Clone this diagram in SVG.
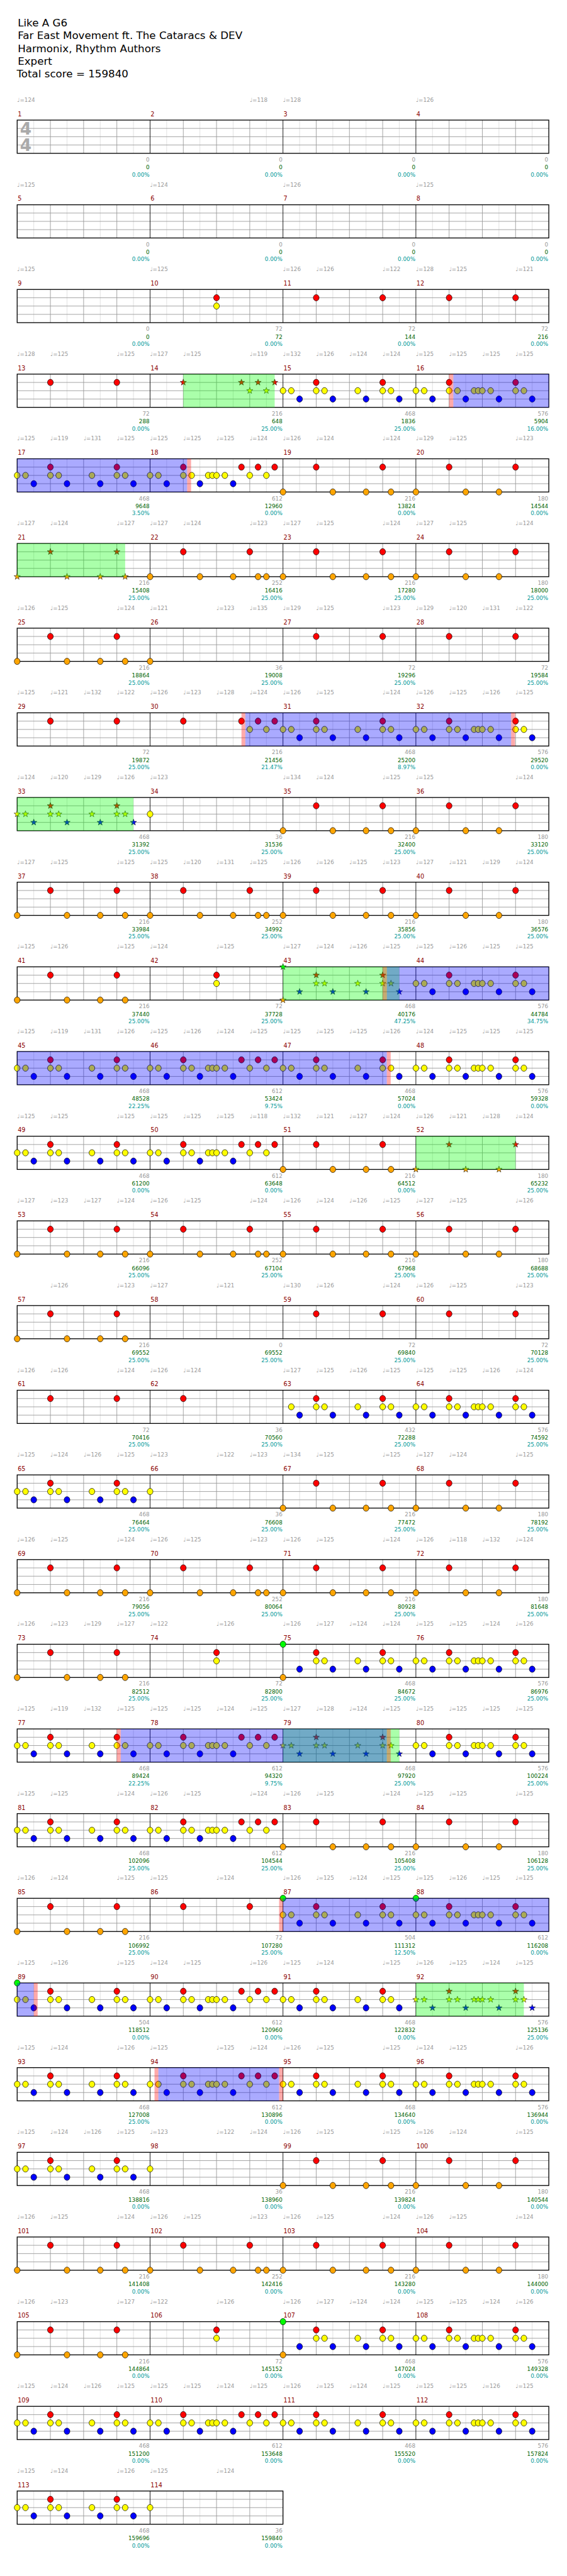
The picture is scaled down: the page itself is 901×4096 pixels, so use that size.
<svg xmlns="http://www.w3.org/2000/svg" width="901" height="4096" viewBox="0 0 901 4096">
<style>
text{font-family:"DejaVu Sans","Liberation Sans",sans-serif}
.t{font-size:19px;fill:#000}
.tp{font-size:10px;fill:#999}
.mn{font-size:11px;fill:#8b0000}
.ts{font-size:30px;font-weight:bold;fill:#aaa}
.s1{font-size:10px;fill:#999;text-anchor:end}
.s2{font-size:10px;fill:#006400;text-anchor:end}
.s3{font-size:10px;fill:#009999;text-anchor:end}
.o{fill:#ffa500}.r{fill:#f00}.y{fill:#ff0}.b{fill:#00f}.g{fill:#0f0}
.ob{fill:#00f;fill-opacity:.333}.og{fill:#0f0;fill-opacity:.333}.or{fill:#f00;fill-opacity:.333}
</style>
<defs>
<g id="grid">
<rect x="31" y="0" width="960" height="60" fill="#fff"/>
<path d="M61 0v60M121 0v60M181 0v60M241 0v60M301 0v60M361 0v60M421 0v60M481 0v60M541 0v60M601 0v60M661 0v60M721 0v60M781 0v60M841 0v60M901 0v60M961 0v60" stroke="#ddd"/>
<path d="M91 0v60M151 0v60M211 0v60M331 0v60M391 0v60M451 0v60M571 0v60M631 0v60M691 0v60M811 0v60M871 0v60M931 0v60M31 15h960M31 30h960M31 45h960" stroke="#999"/>
<path d="M271 0v60M511 0v60M751 0v60" stroke="#000"/>
<rect x="31" y="0" width="960" height="60" fill="none" stroke="#000" stroke-width="1.5"/>
</g>
<g id="grid2">
<rect x="31" y="0" width="480" height="60" fill="#fff"/>
<path d="M61 0v60M121 0v60M181 0v60M241 0v60M301 0v60M361 0v60M421 0v60M481 0v60" stroke="#ddd"/>
<path d="M91 0v60M151 0v60M211 0v60M331 0v60M391 0v60M451 0v60M31 15h480M31 30h480M31 45h480" stroke="#999"/>
<path d="M271 0v60" stroke="#000"/>
<rect x="31" y="0" width="480" height="60" fill="none" stroke="#000" stroke-width="1.5"/>
</g>
<ellipse id="n" rx="5.2" ry="5.7" stroke="#000" stroke-width=".8"/>
<path id="s" d="M0-6L1.41-1.94 5.71-1.85 2.28.74 3.53 4.85 0 2.4-3.53 4.85-2.28.74-5.71-1.85-1.41-1.94Z" stroke="#000" stroke-width=".6"/>
<g id="R"><use href="#n" class="r" x="60" y="15"/><use href="#n" class="r" x="180" y="15"/></g>
<g id="K3"><use href="#R"/><use href="#n" class="o" x="0" y="60"/><use href="#n" class="o" x="90" y="60"/><use href="#n" class="o" x="150" y="60"/></g>
<g id="K1"><use href="#K3"/><use href="#n" class="o" x="195" y="60"/></g>
<g id="K2"><use href="#K1"/><use href="#n" class="o" x="210" y="60"/></g>
<g id="RY8"><use href="#n" class="r" x="120" y="15"/><use href="#n" class="y" x="120" y="30"/></g>
<g id="C"><use href="#n" class="y" x="60" y="30"/><use href="#n" class="y" x="75" y="30"/><use href="#n" class="y" x="135" y="30"/><use href="#n" class="y" x="180" y="30"/><use href="#n" class="y" x="195" y="30"/><use href="#R"/><use href="#n" class="b" x="30" y="45"/><use href="#n" class="b" x="90" y="45"/><use href="#n" class="b" x="150" y="45"/><use href="#n" class="b" x="210" y="45"/></g>
<g id="H1b"><use href="#n" class="y" x="15" y="30"/><use href="#C"/></g>
<g id="H1"><use href="#n" class="y" x="0" y="30"/><use href="#H1b"/></g>
<g id="H2"><use href="#H1"/><use href="#n" class="y" x="105" y="30"/><use href="#n" class="y" x="112.5" y="30"/><use href="#n" class="y" x="120" y="30"/></g>
<g id="X"><use href="#n" class="r" x="60" y="15"/><use href="#n" class="r" x="165" y="15"/><use href="#n" class="r" x="195" y="15"/><use href="#n" class="r" x="225" y="15"/><use href="#n" class="y" x="180" y="30"/><use href="#n" class="y" x="210" y="30"/></g>
<g id="H3"><use href="#X"/><use href="#n" class="y" x="0" y="30"/><use href="#n" class="y" x="15" y="30"/><use href="#n" class="y" x="60" y="30"/><use href="#n" class="y" x="75" y="30"/><use href="#n" class="y" x="105" y="30"/><use href="#n" class="y" x="112.5" y="30"/><use href="#n" class="y" x="120" y="30"/><use href="#n" class="y" x="135" y="30"/><use href="#n" class="b" x="30" y="45"/><use href="#n" class="b" x="90" y="45"/><use href="#n" class="b" x="150" y="45"/></g>
<g id="Rs"><use href="#s" class="r" x="60" y="15"/><use href="#s" class="r" x="180" y="15"/></g>
<g id="K3s"><use href="#Rs"/><use href="#s" class="o" x="0" y="60"/><use href="#s" class="o" x="90" y="60"/><use href="#s" class="o" x="150" y="60"/></g>
<g id="K1s"><use href="#K3s"/><use href="#s" class="o" x="195" y="60"/></g>
<g id="Xs"><use href="#s" class="r" x="60" y="15"/><use href="#s" class="r" x="165" y="15"/><use href="#s" class="r" x="195" y="15"/><use href="#s" class="r" x="225" y="15"/><use href="#s" class="y" x="180" y="30"/><use href="#s" class="y" x="210" y="30"/></g>
<g id="Cs"><use href="#s" class="y" x="60" y="30"/><use href="#s" class="y" x="75" y="30"/><use href="#s" class="y" x="135" y="30"/><use href="#s" class="y" x="180" y="30"/><use href="#s" class="y" x="195" y="30"/><use href="#Rs"/><use href="#s" class="b" x="30" y="45"/><use href="#s" class="b" x="90" y="45"/><use href="#s" class="b" x="150" y="45"/><use href="#s" class="b" x="210" y="45"/></g>
<g id="H1s"><use href="#s" class="y" x="0" y="30"/><use href="#s" class="y" x="15" y="30"/><use href="#Cs"/></g>
<g id="H2s"><use href="#H1s"/><use href="#s" class="y" x="105" y="30"/><use href="#s" class="y" x="112.5" y="30"/><use href="#s" class="y" x="120" y="30"/></g>
</defs>
<rect width="901" height="4096" fill="#fff"/>
<g transform="scale(0.88)">
<g id="header">
<text class="t" x="32" y="48">Like A G6</text>
<text class="t" x="32" y="71">Far East Movement ft. The Cataracs &amp; DEV</text>
<text class="t" x="32" y="94">Harmonix, Rhythm Authors</text>
<text class="t" x="32" y="117">Expert</text>
<text class="t" x="30" y="140">Total score = 159840</text>
</g>

<g id="row1" transform="translate(0,217)">
<use href="#grid"/>
<text class="ts" x="36" y="26">4</text><text class="ts" x="36" y="56">4</text>
<text class="tp" x="31" y="-33">♩=124</text><text class="tp" x="451" y="-33">♩=118</text><text class="tp" x="511" y="-33">♩=128</text><text class="tp" x="751" y="-33">♩=126</text>
<text class="mn" x="32" y="-7">1</text><text class="mn" x="272" y="-7">2</text><text class="mn" x="512" y="-7">3</text><text class="mn" x="752" y="-7">4</text>
<text class="s1" x="270" y="75">0</text><text class="s2" x="270" y="89">0</text><text class="s3" x="270" y="102">0.00%</text>
<text class="s1" x="510" y="75">0</text><text class="s2" x="510" y="89">0</text><text class="s3" x="510" y="102">0.00%</text>
<text class="s1" x="750" y="75">0</text><text class="s2" x="750" y="89">0</text><text class="s3" x="750" y="102">0.00%</text>
<text class="s1" x="990" y="75">0</text><text class="s2" x="990" y="89">0</text><text class="s3" x="990" y="102">0.00%</text>
</g>

<g id="row2" transform="translate(0,370)">
<use href="#grid"/>
<text class="tp" x="31" y="-33">♩=125</text><text class="tp" x="271" y="-33">♩=124</text><text class="tp" x="511" y="-33">♩=126</text><text class="tp" x="751" y="-33">♩=125</text>
<text class="mn" x="32" y="-7">5</text><text class="mn" x="272" y="-7">6</text><text class="mn" x="512" y="-7">7</text><text class="mn" x="752" y="-7">8</text>
<text class="s1" x="270" y="75">0</text><text class="s2" x="270" y="89">0</text><text class="s3" x="270" y="102">0.00%</text>
<text class="s1" x="510" y="75">0</text><text class="s2" x="510" y="89">0</text><text class="s3" x="510" y="102">0.00%</text>
<text class="s1" x="750" y="75">0</text><text class="s2" x="750" y="89">0</text><text class="s3" x="750" y="102">0.00%</text>
<text class="s1" x="990" y="75">0</text><text class="s2" x="990" y="89">0</text><text class="s3" x="990" y="102">0.00%</text>
</g>

<g id="row3" transform="translate(0,523)">
<use href="#grid"/>
<text class="tp" x="31" y="-33">♩=125</text><text class="tp" x="271" y="-33">♩=125</text><text class="tp" x="511" y="-33">♩=126</text><text class="tp" x="571" y="-33">♩=126</text><text class="tp" x="691" y="-33">♩=122</text><text class="tp" x="751" y="-33">♩=128</text><text class="tp" x="811" y="-33">♩=125</text><text class="tp" x="931" y="-33">♩=121</text>
<text class="mn" x="32" y="-7">9</text><text class="mn" x="272" y="-7">10</text><text class="mn" x="512" y="-7">11</text><text class="mn" x="752" y="-7">12</text>
<use href="#RY8" x="271"/><use href="#R" x="511"/><use href="#R" x="751"/>
<text class="s1" x="270" y="75">0</text><text class="s2" x="270" y="89">0</text><text class="s3" x="270" y="102">0.00%</text>
<text class="s1" x="510" y="75">72</text><text class="s2" x="510" y="89">72</text><text class="s3" x="510" y="102">0.00%</text>
<text class="s1" x="750" y="75">72</text><text class="s2" x="750" y="89">144</text><text class="s3" x="750" y="102">0.00%</text>
<text class="s1" x="990" y="75">72</text><text class="s2" x="990" y="89">216</text><text class="s3" x="990" y="102">0.00%</text>
</g>

<g id="row4" transform="translate(0,676)">
<use href="#grid"/>
<text class="tp" x="31" y="-33">♩=128</text><text class="tp" x="91" y="-33">♩=125</text><text class="tp" x="211" y="-33">♩=125</text><text class="tp" x="271" y="-33">♩=127</text><text class="tp" x="331" y="-33">♩=125</text><text class="tp" x="451" y="-33">♩=119</text><text class="tp" x="511" y="-33">♩=132</text><text class="tp" x="571" y="-33">♩=126</text><text class="tp" x="631" y="-33">♩=124</text><text class="tp" x="691" y="-33">♩=124</text><text class="tp" x="751" y="-33">♩=125</text><text class="tp" x="811" y="-33">♩=125</text><text class="tp" x="871" y="-33">♩=125</text><text class="tp" x="931" y="-33">♩=125</text>
<text class="mn" x="32" y="-7">13</text><text class="mn" x="272" y="-7">14</text><text class="mn" x="512" y="-7">15</text><text class="mn" x="752" y="-7">16</text>
<use href="#R" x="31"/><use href="#Xs" x="271"/><use href="#H1" x="511"/><use href="#H2" x="751"/>
<rect class="og" x="331" y="0" width="165" height="60"/><rect class="ob" x="818.5" y="0" width="172.5" height="60"/><rect class="or" x="811" y="0" width="7.5" height="60"/>
<text class="s1" x="270" y="75">72</text><text class="s2" x="270" y="89">288</text><text class="s3" x="270" y="102">0.00%</text>
<text class="s1" x="510" y="75">216</text><text class="s2" x="510" y="89">648</text><text class="s3" x="510" y="102">25.00%</text>
<text class="s1" x="750" y="75">468</text><text class="s2" x="750" y="89">1836</text><text class="s3" x="750" y="102">25.00%</text>
<text class="s1" x="990" y="75">576</text><text class="s2" x="990" y="89">5904</text><text class="s3" x="990" y="102">16.00%</text>
</g>

<g id="row5" transform="translate(0,829)">
<use href="#grid"/>
<text class="tp" x="31" y="-33">♩=125</text><text class="tp" x="91" y="-33">♩=119</text><text class="tp" x="151" y="-33">♩=131</text><text class="tp" x="211" y="-33">♩=125</text><text class="tp" x="271" y="-33">♩=125</text><text class="tp" x="331" y="-33">♩=125</text><text class="tp" x="391" y="-33">♩=125</text><text class="tp" x="451" y="-33">♩=124</text><text class="tp" x="511" y="-33">♩=126</text><text class="tp" x="571" y="-33">♩=124</text><text class="tp" x="691" y="-33">♩=124</text><text class="tp" x="751" y="-33">♩=129</text><text class="tp" x="811" y="-33">♩=125</text><text class="tp" x="931" y="-33">♩=123</text>
<text class="mn" x="32" y="-7">17</text><text class="mn" x="272" y="-7">18</text><text class="mn" x="512" y="-7">19</text><text class="mn" x="752" y="-7">20</text>
<use href="#H1" x="31"/><use href="#H3" x="271"/><use href="#K1" x="511"/><use href="#K3" x="751"/>
<rect class="ob" x="31" y="0" width="307" height="60"/><rect class="or" x="338" y="0" width="7" height="60"/>
<text class="s1" x="270" y="75">468</text><text class="s2" x="270" y="89">9648</text><text class="s3" x="270" y="102">3.50%</text>
<text class="s1" x="510" y="75">612</text><text class="s2" x="510" y="89">12960</text><text class="s3" x="510" y="102">0.00%</text>
<text class="s1" x="750" y="75">216</text><text class="s2" x="750" y="89">13824</text><text class="s3" x="750" y="102">0.00%</text>
<text class="s1" x="990" y="75">180</text><text class="s2" x="990" y="89">14544</text><text class="s3" x="990" y="102">0.00%</text>
</g>

<g id="row6" transform="translate(0,982)">
<use href="#grid"/>
<text class="tp" x="31" y="-33">♩=127</text><text class="tp" x="91" y="-33">♩=124</text><text class="tp" x="211" y="-33">♩=127</text><text class="tp" x="271" y="-33">♩=127</text><text class="tp" x="331" y="-33">♩=124</text><text class="tp" x="451" y="-33">♩=123</text><text class="tp" x="511" y="-33">♩=127</text><text class="tp" x="571" y="-33">♩=125</text><text class="tp" x="691" y="-33">♩=124</text><text class="tp" x="751" y="-33">♩=127</text><text class="tp" x="811" y="-33">♩=125</text><text class="tp" x="931" y="-33">♩=124</text>
<text class="mn" x="32" y="-7">21</text><text class="mn" x="272" y="-7">22</text><text class="mn" x="512" y="-7">23</text><text class="mn" x="752" y="-7">24</text>
<use href="#K1s" x="31"/><use href="#K2" x="271"/><use href="#K1" x="511"/><use href="#K3" x="751"/>
<rect class="og" x="31" y="0" width="195" height="60"/>
<text class="s1" x="270" y="75">216</text><text class="s2" x="270" y="89">15408</text><text class="s3" x="270" y="102">25.00%</text>
<text class="s1" x="510" y="75">252</text><text class="s2" x="510" y="89">16416</text><text class="s3" x="510" y="102">25.00%</text>
<text class="s1" x="750" y="75">216</text><text class="s2" x="750" y="89">17280</text><text class="s3" x="750" y="102">25.00%</text>
<text class="s1" x="990" y="75">180</text><text class="s2" x="990" y="89">18000</text><text class="s3" x="990" y="102">25.00%</text>
</g>

<g id="row7" transform="translate(0,1135)">
<use href="#grid"/>
<text class="tp" x="31" y="-33">♩=126</text><text class="tp" x="91" y="-33">♩=125</text><text class="tp" x="211" y="-33">♩=124</text><text class="tp" x="271" y="-33">♩=121</text><text class="tp" x="391" y="-33">♩=123</text><text class="tp" x="451" y="-33">♩=135</text><text class="tp" x="511" y="-33">♩=129</text><text class="tp" x="571" y="-33">♩=125</text><text class="tp" x="691" y="-33">♩=123</text><text class="tp" x="751" y="-33">♩=129</text><text class="tp" x="811" y="-33">♩=120</text><text class="tp" x="871" y="-33">♩=131</text><text class="tp" x="931" y="-33">♩=122</text>
<text class="mn" x="32" y="-7">25</text><text class="mn" x="272" y="-7">26</text><text class="mn" x="512" y="-7">27</text><text class="mn" x="752" y="-7">28</text>
<use href="#K1" x="31"/><use href="#n" class="o" x="271" y="60"/><use href="#R" x="511"/><use href="#R" x="751"/>
<text class="s1" x="270" y="75">216</text><text class="s2" x="270" y="89">18864</text><text class="s3" x="270" y="102">25.00%</text>
<text class="s1" x="510" y="75">36</text><text class="s2" x="510" y="89">19008</text><text class="s3" x="510" y="102">25.00%</text>
<text class="s1" x="750" y="75">72</text><text class="s2" x="750" y="89">19296</text><text class="s3" x="750" y="102">25.00%</text>
<text class="s1" x="990" y="75">72</text><text class="s2" x="990" y="89">19584</text><text class="s3" x="990" y="102">25.00%</text>
</g>

<g id="row8" transform="translate(0,1288)">
<use href="#grid"/>
<text class="tp" x="31" y="-33">♩=125</text><text class="tp" x="91" y="-33">♩=121</text><text class="tp" x="151" y="-33">♩=132</text><text class="tp" x="211" y="-33">♩=122</text><text class="tp" x="271" y="-33">♩=126</text><text class="tp" x="331" y="-33">♩=123</text><text class="tp" x="391" y="-33">♩=128</text><text class="tp" x="451" y="-33">♩=124</text><text class="tp" x="511" y="-33">♩=126</text><text class="tp" x="571" y="-33">♩=125</text><text class="tp" x="691" y="-33">♩=124</text><text class="tp" x="751" y="-33">♩=126</text><text class="tp" x="811" y="-33">♩=125</text><text class="tp" x="871" y="-33">♩=126</text><text class="tp" x="931" y="-33">♩=125</text>
<text class="mn" x="32" y="-7">29</text><text class="mn" x="272" y="-7">30</text><text class="mn" x="512" y="-7">31</text><text class="mn" x="752" y="-7">32</text>
<use href="#R" x="31"/><use href="#X" x="271"/><use href="#H1" x="511"/><use href="#H2" x="751"/>
<rect class="or" x="436" y="0" width="7" height="60"/><rect class="ob" x="443" y="0" width="480" height="60"/><rect class="or" x="923" y="0" width="7" height="60"/>
<text class="s1" x="270" y="75">72</text><text class="s2" x="270" y="89">19872</text><text class="s3" x="270" y="102">25.00%</text>
<text class="s1" x="510" y="75">216</text><text class="s2" x="510" y="89">21456</text><text class="s3" x="510" y="102">21.47%</text>
<text class="s1" x="750" y="75">468</text><text class="s2" x="750" y="89">25200</text><text class="s3" x="750" y="102">8.97%</text>
<text class="s1" x="990" y="75">576</text><text class="s2" x="990" y="89">29520</text><text class="s3" x="990" y="102">0.00%</text>
</g>

<g id="row9" transform="translate(0,1441)">
<use href="#grid"/>
<text class="tp" x="31" y="-33">♩=124</text><text class="tp" x="91" y="-33">♩=120</text><text class="tp" x="151" y="-33">♩=129</text><text class="tp" x="211" y="-33">♩=126</text><text class="tp" x="271" y="-33">♩=123</text><text class="tp" x="511" y="-33">♩=134</text><text class="tp" x="571" y="-33">♩=124</text><text class="tp" x="691" y="-33">♩=125</text><text class="tp" x="751" y="-33">♩=125</text><text class="tp" x="931" y="-33">♩=124</text>
<text class="mn" x="32" y="-7">33</text><text class="mn" x="272" y="-7">34</text><text class="mn" x="512" y="-7">35</text><text class="mn" x="752" y="-7">36</text>
<use href="#H1s" x="31"/><use href="#n" class="y" x="271" y="30"/><use href="#K1" x="511"/><use href="#K3" x="751"/>
<rect class="og" x="31" y="0" width="210" height="60"/>
<text class="s1" x="270" y="75">468</text><text class="s2" x="270" y="89">31392</text><text class="s3" x="270" y="102">25.00%</text>
<text class="s1" x="510" y="75">36</text><text class="s2" x="510" y="89">31536</text><text class="s3" x="510" y="102">25.00%</text>
<text class="s1" x="750" y="75">216</text><text class="s2" x="750" y="89">32400</text><text class="s3" x="750" y="102">25.00%</text>
<text class="s1" x="990" y="75">180</text><text class="s2" x="990" y="89">33120</text><text class="s3" x="990" y="102">25.00%</text>
</g>

<g id="row10" transform="translate(0,1594)">
<use href="#grid"/>
<text class="tp" x="31" y="-33">♩=127</text><text class="tp" x="91" y="-33">♩=125</text><text class="tp" x="211" y="-33">♩=125</text><text class="tp" x="271" y="-33">♩=125</text><text class="tp" x="331" y="-33">♩=120</text><text class="tp" x="391" y="-33">♩=131</text><text class="tp" x="451" y="-33">♩=125</text><text class="tp" x="511" y="-33">♩=126</text><text class="tp" x="571" y="-33">♩=126</text><text class="tp" x="631" y="-33">♩=125</text><text class="tp" x="691" y="-33">♩=123</text><text class="tp" x="751" y="-33">♩=127</text><text class="tp" x="811" y="-33">♩=121</text><text class="tp" x="871" y="-33">♩=129</text><text class="tp" x="931" y="-33">♩=124</text>
<text class="mn" x="32" y="-7">37</text><text class="mn" x="272" y="-7">38</text><text class="mn" x="512" y="-7">39</text><text class="mn" x="752" y="-7">40</text>
<use href="#K1" x="31"/><use href="#K2" x="271"/><use href="#K1" x="511"/><use href="#K3" x="751"/>
<text class="s1" x="270" y="75">216</text><text class="s2" x="270" y="89">33984</text><text class="s3" x="270" y="102">25.00%</text>
<text class="s1" x="510" y="75">252</text><text class="s2" x="510" y="89">34992</text><text class="s3" x="510" y="102">25.00%</text>
<text class="s1" x="750" y="75">216</text><text class="s2" x="750" y="89">35856</text><text class="s3" x="750" y="102">25.00%</text>
<text class="s1" x="990" y="75">180</text><text class="s2" x="990" y="89">36576</text><text class="s3" x="990" y="102">25.00%</text>
</g>

<g id="row11" transform="translate(0,1747)">
<use href="#grid"/>
<text class="tp" x="31" y="-33">♩=125</text><text class="tp" x="91" y="-33">♩=126</text><text class="tp" x="211" y="-33">♩=125</text><text class="tp" x="271" y="-33">♩=124</text><text class="tp" x="391" y="-33">♩=125</text><text class="tp" x="511" y="-33">♩=127</text><text class="tp" x="571" y="-33">♩=124</text><text class="tp" x="631" y="-33">♩=126</text><text class="tp" x="691" y="-33">♩=125</text><text class="tp" x="751" y="-33">♩=125</text><text class="tp" x="811" y="-33">♩=126</text><text class="tp" x="871" y="-33">♩=125</text><text class="tp" x="931" y="-33">♩=125</text>
<text class="mn" x="32" y="-7">41</text><text class="mn" x="272" y="-7">42</text><text class="mn" x="512" y="-7">43</text><text class="mn" x="752" y="-7">44</text>
<use href="#K1" x="31"/><use href="#RY8" x="271"/><use href="#s" class="g" x="511" y="0"/><use href="#s" class="o" x="511" y="60"/><use href="#Cs" x="511"/><use href="#H2" x="751"/>
<rect class="og" x="511" y="0" width="210" height="60"/><rect class="ob" x="698.5" y="0" width="292.5" height="60"/><rect class="or" x="691" y="0" width="7.5" height="60"/>
<text class="s1" x="270" y="75">216</text><text class="s2" x="270" y="89">37440</text><text class="s3" x="270" y="102">25.00%</text>
<text class="s1" x="510" y="75">72</text><text class="s2" x="510" y="89">37728</text><text class="s3" x="510" y="102">25.00%</text>
<text class="s1" x="750" y="75">468</text><text class="s2" x="750" y="89">40176</text><text class="s3" x="750" y="102">47.25%</text>
<text class="s1" x="990" y="75">576</text><text class="s2" x="990" y="89">44784</text><text class="s3" x="990" y="102">34.75%</text>
</g>

<g id="row12" transform="translate(0,1900)">
<use href="#grid"/>
<text class="tp" x="31" y="-33">♩=125</text><text class="tp" x="91" y="-33">♩=119</text><text class="tp" x="151" y="-33">♩=131</text><text class="tp" x="211" y="-33">♩=126</text><text class="tp" x="271" y="-33">♩=125</text><text class="tp" x="331" y="-33">♩=126</text><text class="tp" x="391" y="-33">♩=124</text><text class="tp" x="451" y="-33">♩=125</text><text class="tp" x="511" y="-33">♩=125</text><text class="tp" x="571" y="-33">♩=125</text><text class="tp" x="631" y="-33">♩=125</text><text class="tp" x="691" y="-33">♩=126</text><text class="tp" x="751" y="-33">♩=124</text><text class="tp" x="811" y="-33">♩=125</text><text class="tp" x="871" y="-33">♩=125</text><text class="tp" x="931" y="-33">♩=125</text>
<text class="mn" x="32" y="-7">45</text><text class="mn" x="272" y="-7">46</text><text class="mn" x="512" y="-7">47</text><text class="mn" x="752" y="-7">48</text>
<use href="#H1" x="31"/><use href="#H3" x="271"/><use href="#H1" x="511"/><use href="#H2" x="751"/>
<rect class="ob" x="31" y="0" width="667.5" height="60"/><rect class="or" x="698.5" y="0" width="7" height="60"/>
<text class="s1" x="270" y="75">468</text><text class="s2" x="270" y="89">48528</text><text class="s3" x="270" y="102">22.25%</text>
<text class="s1" x="510" y="75">612</text><text class="s2" x="510" y="89">53424</text><text class="s3" x="510" y="102">9.75%</text>
<text class="s1" x="750" y="75">468</text><text class="s2" x="750" y="89">57024</text><text class="s3" x="750" y="102">0.00%</text>
<text class="s1" x="990" y="75">576</text><text class="s2" x="990" y="89">59328</text><text class="s3" x="990" y="102">0.00%</text>
</g>

<g id="row13" transform="translate(0,2053)">
<use href="#grid"/>
<text class="tp" x="31" y="-33">♩=125</text><text class="tp" x="91" y="-33">♩=125</text><text class="tp" x="211" y="-33">♩=125</text><text class="tp" x="271" y="-33">♩=125</text><text class="tp" x="331" y="-33">♩=125</text><text class="tp" x="391" y="-33">♩=125</text><text class="tp" x="451" y="-33">♩=118</text><text class="tp" x="511" y="-33">♩=132</text><text class="tp" x="571" y="-33">♩=121</text><text class="tp" x="631" y="-33">♩=127</text><text class="tp" x="691" y="-33">♩=124</text><text class="tp" x="751" y="-33">♩=126</text><text class="tp" x="811" y="-33">♩=121</text><text class="tp" x="871" y="-33">♩=128</text><text class="tp" x="931" y="-33">♩=124</text>
<text class="mn" x="32" y="-7">49</text><text class="mn" x="272" y="-7">50</text><text class="mn" x="512" y="-7">51</text><text class="mn" x="752" y="-7">52</text>
<use href="#H1" x="31"/><use href="#H3" x="271"/><use href="#K1" x="511"/><use href="#K3s" x="751"/>
<rect class="og" x="751" y="0" width="180" height="60"/>
<text class="s1" x="270" y="75">468</text><text class="s2" x="270" y="89">61200</text><text class="s3" x="270" y="102">0.00%</text>
<text class="s1" x="510" y="75">612</text><text class="s2" x="510" y="89">63648</text><text class="s3" x="510" y="102">0.00%</text>
<text class="s1" x="750" y="75">216</text><text class="s2" x="750" y="89">64512</text><text class="s3" x="750" y="102">0.00%</text>
<text class="s1" x="990" y="75">180</text><text class="s2" x="990" y="89">65232</text><text class="s3" x="990" y="102">25.00%</text>
</g>

<g id="row14" transform="translate(0,2206)">
<use href="#grid"/>
<text class="tp" x="31" y="-33">♩=127</text><text class="tp" x="91" y="-33">♩=123</text><text class="tp" x="151" y="-33">♩=127</text><text class="tp" x="211" y="-33">♩=124</text><text class="tp" x="271" y="-33">♩=126</text><text class="tp" x="331" y="-33">♩=125</text><text class="tp" x="451" y="-33">♩=124</text><text class="tp" x="511" y="-33">♩=126</text><text class="tp" x="571" y="-33">♩=124</text><text class="tp" x="631" y="-33">♩=126</text><text class="tp" x="691" y="-33">♩=125</text><text class="tp" x="751" y="-33">♩=127</text><text class="tp" x="811" y="-33">♩=125</text><text class="tp" x="931" y="-33">♩=126</text>
<text class="mn" x="32" y="-7">53</text><text class="mn" x="272" y="-7">54</text><text class="mn" x="512" y="-7">55</text><text class="mn" x="752" y="-7">56</text>
<use href="#K1" x="31"/><use href="#K2" x="271"/><use href="#K1" x="511"/><use href="#K3" x="751"/>
<text class="s1" x="270" y="75">216</text><text class="s2" x="270" y="89">66096</text><text class="s3" x="270" y="102">25.00%</text>
<text class="s1" x="510" y="75">252</text><text class="s2" x="510" y="89">67104</text><text class="s3" x="510" y="102">25.00%</text>
<text class="s1" x="750" y="75">216</text><text class="s2" x="750" y="89">67968</text><text class="s3" x="750" y="102">25.00%</text>
<text class="s1" x="990" y="75">180</text><text class="s2" x="990" y="89">68688</text><text class="s3" x="990" y="102">25.00%</text>
</g>

<g id="row15" transform="translate(0,2359)">
<use href="#grid"/>
<text class="tp" x="91" y="-33">♩=126</text><text class="tp" x="211" y="-33">♩=123</text><text class="tp" x="271" y="-33">♩=127</text><text class="tp" x="391" y="-33">♩=121</text><text class="tp" x="511" y="-33">♩=130</text><text class="tp" x="571" y="-33">♩=126</text><text class="tp" x="691" y="-33">♩=124</text><text class="tp" x="751" y="-33">♩=126</text><text class="tp" x="811" y="-33">♩=125</text><text class="tp" x="931" y="-33">♩=123</text>
<text class="mn" x="32" y="-7">57</text><text class="mn" x="272" y="-7">58</text><text class="mn" x="512" y="-7">59</text><text class="mn" x="752" y="-7">60</text>
<use href="#K1" x="31"/><use href="#R" x="511"/><use href="#R" x="751"/>
<text class="s1" x="270" y="75">216</text><text class="s2" x="270" y="89">69552</text><text class="s3" x="270" y="102">25.00%</text>
<text class="s1" x="510" y="75">0</text><text class="s2" x="510" y="89">69552</text><text class="s3" x="510" y="102">25.00%</text>
<text class="s1" x="750" y="75">72</text><text class="s2" x="750" y="89">69840</text><text class="s3" x="750" y="102">25.00%</text>
<text class="s1" x="990" y="75">72</text><text class="s2" x="990" y="89">70128</text><text class="s3" x="990" y="102">25.00%</text>
</g>

<g id="row16" transform="translate(0,2512)">
<use href="#grid"/>
<text class="tp" x="31" y="-33">♩=126</text><text class="tp" x="91" y="-33">♩=126</text><text class="tp" x="211" y="-33">♩=124</text><text class="tp" x="271" y="-33">♩=126</text><text class="tp" x="331" y="-33">♩=124</text><text class="tp" x="511" y="-33">♩=127</text><text class="tp" x="571" y="-33">♩=125</text><text class="tp" x="631" y="-33">♩=126</text><text class="tp" x="691" y="-33">♩=125</text><text class="tp" x="751" y="-33">♩=125</text><text class="tp" x="811" y="-33">♩=125</text><text class="tp" x="871" y="-33">♩=126</text><text class="tp" x="931" y="-33">♩=124</text>
<text class="mn" x="32" y="-7">61</text><text class="mn" x="272" y="-7">62</text><text class="mn" x="512" y="-7">63</text><text class="mn" x="752" y="-7">64</text>
<use href="#R" x="31"/><use href="#n" class="r" x="331" y="15"/><use href="#H1b" x="511"/><use href="#H2" x="751"/>
<text class="s1" x="270" y="75">72</text><text class="s2" x="270" y="89">70416</text><text class="s3" x="270" y="102">25.00%</text>
<text class="s1" x="510" y="75">36</text><text class="s2" x="510" y="89">70560</text><text class="s3" x="510" y="102">25.00%</text>
<text class="s1" x="750" y="75">432</text><text class="s2" x="750" y="89">72288</text><text class="s3" x="750" y="102">25.00%</text>
<text class="s1" x="990" y="75">576</text><text class="s2" x="990" y="89">74592</text><text class="s3" x="990" y="102">25.00%</text>
</g>

<g id="row17" transform="translate(0,2665)">
<use href="#grid"/>
<text class="tp" x="31" y="-33">♩=125</text><text class="tp" x="91" y="-33">♩=124</text><text class="tp" x="151" y="-33">♩=126</text><text class="tp" x="211" y="-33">♩=125</text><text class="tp" x="271" y="-33">♩=123</text><text class="tp" x="391" y="-33">♩=122</text><text class="tp" x="451" y="-33">♩=123</text><text class="tp" x="511" y="-33">♩=134</text><text class="tp" x="571" y="-33">♩=125</text><text class="tp" x="691" y="-33">♩=125</text><text class="tp" x="751" y="-33">♩=127</text><text class="tp" x="811" y="-33">♩=124</text><text class="tp" x="931" y="-33">♩=125</text>
<text class="mn" x="32" y="-7">65</text><text class="mn" x="272" y="-7">66</text><text class="mn" x="512" y="-7">67</text><text class="mn" x="752" y="-7">68</text>
<use href="#H1" x="31"/><use href="#n" class="y" x="271" y="30"/><use href="#K1" x="511"/><use href="#K3" x="751"/>
<text class="s1" x="270" y="75">468</text><text class="s2" x="270" y="89">76464</text><text class="s3" x="270" y="102">25.00%</text>
<text class="s1" x="510" y="75">36</text><text class="s2" x="510" y="89">76608</text><text class="s3" x="510" y="102">25.00%</text>
<text class="s1" x="750" y="75">216</text><text class="s2" x="750" y="89">77472</text><text class="s3" x="750" y="102">25.00%</text>
<text class="s1" x="990" y="75">180</text><text class="s2" x="990" y="89">78192</text><text class="s3" x="990" y="102">25.00%</text>
</g>

<g id="row18" transform="translate(0,2818)">
<use href="#grid"/>
<text class="tp" x="31" y="-33">♩=126</text><text class="tp" x="91" y="-33">♩=125</text><text class="tp" x="211" y="-33">♩=124</text><text class="tp" x="271" y="-33">♩=126</text><text class="tp" x="331" y="-33">♩=125</text><text class="tp" x="451" y="-33">♩=123</text><text class="tp" x="511" y="-33">♩=126</text><text class="tp" x="571" y="-33">♩=125</text><text class="tp" x="691" y="-33">♩=124</text><text class="tp" x="751" y="-33">♩=126</text><text class="tp" x="811" y="-33">♩=118</text><text class="tp" x="871" y="-33">♩=132</text><text class="tp" x="931" y="-33">♩=124</text>
<text class="mn" x="32" y="-7">69</text><text class="mn" x="272" y="-7">70</text><text class="mn" x="512" y="-7">71</text><text class="mn" x="752" y="-7">72</text>
<use href="#K1" x="31"/><use href="#K2" x="271"/><use href="#K1" x="511"/><use href="#K3" x="751"/>
<text class="s1" x="270" y="75">216</text><text class="s2" x="270" y="89">79056</text><text class="s3" x="270" y="102">25.00%</text>
<text class="s1" x="510" y="75">252</text><text class="s2" x="510" y="89">80064</text><text class="s3" x="510" y="102">25.00%</text>
<text class="s1" x="750" y="75">216</text><text class="s2" x="750" y="89">80928</text><text class="s3" x="750" y="102">25.00%</text>
<text class="s1" x="990" y="75">180</text><text class="s2" x="990" y="89">81648</text><text class="s3" x="990" y="102">25.00%</text>
</g>

<g id="row19" transform="translate(0,2971)">
<use href="#grid"/>
<text class="tp" x="31" y="-33">♩=126</text><text class="tp" x="91" y="-33">♩=123</text><text class="tp" x="151" y="-33">♩=129</text><text class="tp" x="211" y="-33">♩=127</text><text class="tp" x="271" y="-33">♩=122</text><text class="tp" x="391" y="-33">♩=126</text><text class="tp" x="511" y="-33">♩=126</text><text class="tp" x="571" y="-33">♩=127</text><text class="tp" x="631" y="-33">♩=124</text><text class="tp" x="691" y="-33">♩=124</text><text class="tp" x="751" y="-33">♩=125</text><text class="tp" x="811" y="-33">♩=125</text><text class="tp" x="871" y="-33">♩=124</text><text class="tp" x="931" y="-33">♩=126</text>
<text class="mn" x="32" y="-7">73</text><text class="mn" x="272" y="-7">74</text><text class="mn" x="512" y="-7">75</text><text class="mn" x="752" y="-7">76</text>
<use href="#K1" x="31"/><use href="#RY8" x="271"/><use href="#n" class="g" x="511" y="0"/><use href="#n" class="o" x="511" y="60"/><use href="#C" x="511"/><use href="#H2" x="751"/>
<text class="s1" x="270" y="75">216</text><text class="s2" x="270" y="89">82512</text><text class="s3" x="270" y="102">25.00%</text>
<text class="s1" x="510" y="75">72</text><text class="s2" x="510" y="89">82800</text><text class="s3" x="510" y="102">25.00%</text>
<text class="s1" x="750" y="75">468</text><text class="s2" x="750" y="89">84672</text><text class="s3" x="750" y="102">25.00%</text>
<text class="s1" x="990" y="75">576</text><text class="s2" x="990" y="89">86976</text><text class="s3" x="990" y="102">25.00%</text>
</g>

<g id="row20" transform="translate(0,3124)">
<use href="#grid"/>
<text class="tp" x="31" y="-33">♩=125</text><text class="tp" x="91" y="-33">♩=119</text><text class="tp" x="151" y="-33">♩=132</text><text class="tp" x="211" y="-33">♩=125</text><text class="tp" x="271" y="-33">♩=125</text><text class="tp" x="331" y="-33">♩=125</text><text class="tp" x="391" y="-33">♩=124</text><text class="tp" x="451" y="-33">♩=125</text><text class="tp" x="511" y="-33">♩=127</text><text class="tp" x="571" y="-33">♩=128</text><text class="tp" x="631" y="-33">♩=124</text><text class="tp" x="691" y="-33">♩=125</text><text class="tp" x="751" y="-33">♩=125</text><text class="tp" x="811" y="-33">♩=125</text><text class="tp" x="871" y="-33">♩=125</text><text class="tp" x="931" y="-33">♩=125</text>
<text class="mn" x="32" y="-7">77</text><text class="mn" x="272" y="-7">78</text><text class="mn" x="512" y="-7">79</text><text class="mn" x="752" y="-7">80</text>
<use href="#H1" x="31"/><use href="#H3" x="271"/><use href="#H1s" x="511"/><use href="#H2" x="751"/>
<rect class="og" x="511" y="0" width="210" height="60"/><rect class="ob" x="218" y="0" width="480.5" height="60"/><rect class="or" x="211" y="0" width="7" height="60"/><rect class="or" x="698.5" y="0" width="7" height="60"/>
<text class="s1" x="270" y="75">468</text><text class="s2" x="270" y="89">89424</text><text class="s3" x="270" y="102">22.25%</text>
<text class="s1" x="510" y="75">612</text><text class="s2" x="510" y="89">94320</text><text class="s3" x="510" y="102">9.75%</text>
<text class="s1" x="750" y="75">468</text><text class="s2" x="750" y="89">97920</text><text class="s3" x="750" y="102">25.00%</text>
<text class="s1" x="990" y="75">576</text><text class="s2" x="990" y="89">100224</text><text class="s3" x="990" y="102">25.00%</text>
</g>

<g id="row21" transform="translate(0,3277)">
<use href="#grid"/>
<text class="tp" x="31" y="-33">♩=125</text><text class="tp" x="91" y="-33">♩=125</text><text class="tp" x="211" y="-33">♩=124</text><text class="tp" x="271" y="-33">♩=126</text><text class="tp" x="331" y="-33">♩=125</text><text class="tp" x="451" y="-33">♩=124</text><text class="tp" x="511" y="-33">♩=126</text><text class="tp" x="571" y="-33">♩=125</text><text class="tp" x="691" y="-33">♩=124</text><text class="tp" x="751" y="-33">♩=125</text><text class="tp" x="811" y="-33">♩=125</text><text class="tp" x="931" y="-33">♩=125</text>
<text class="mn" x="32" y="-7">81</text><text class="mn" x="272" y="-7">82</text><text class="mn" x="512" y="-7">83</text><text class="mn" x="752" y="-7">84</text>
<use href="#H1" x="31"/><use href="#H3" x="271"/><use href="#K1" x="511"/><use href="#K3" x="751"/>
<text class="s1" x="270" y="75">468</text><text class="s2" x="270" y="89">102096</text><text class="s3" x="270" y="102">25.00%</text>
<text class="s1" x="510" y="75">612</text><text class="s2" x="510" y="89">104544</text><text class="s3" x="510" y="102">25.00%</text>
<text class="s1" x="750" y="75">216</text><text class="s2" x="750" y="89">105408</text><text class="s3" x="750" y="102">25.00%</text>
<text class="s1" x="990" y="75">180</text><text class="s2" x="990" y="89">106128</text><text class="s3" x="990" y="102">25.00%</text>
</g>

<g id="row22" transform="translate(0,3430)">
<use href="#grid"/>
<text class="tp" x="31" y="-33">♩=126</text><text class="tp" x="91" y="-33">♩=124</text><text class="tp" x="211" y="-33">♩=125</text><text class="tp" x="271" y="-33">♩=125</text><text class="tp" x="391" y="-33">♩=124</text><text class="tp" x="511" y="-33">♩=126</text><text class="tp" x="571" y="-33">♩=125</text><text class="tp" x="631" y="-33">♩=124</text><text class="tp" x="691" y="-33">♩=125</text><text class="tp" x="751" y="-33">♩=125</text><text class="tp" x="811" y="-33">♩=126</text><text class="tp" x="871" y="-33">♩=125</text><text class="tp" x="931" y="-33">♩=125</text>
<text class="mn" x="32" y="-7">85</text><text class="mn" x="272" y="-7">86</text><text class="mn" x="512" y="-7">87</text><text class="mn" x="752" y="-7">88</text>
<use href="#K1" x="31"/><use href="#R" x="271"/><use href="#n" class="g" x="511" y="0"/><use href="#H1" x="511"/><use href="#n" class="g" x="751" y="0"/><use href="#H2" x="751"/>
<rect class="ob" x="511" y="0" width="480" height="60"/><rect class="or" x="504" y="0" width="7" height="60"/>
<text class="s1" x="270" y="75">216</text><text class="s2" x="270" y="89">106992</text><text class="s3" x="270" y="102">25.00%</text>
<text class="s1" x="510" y="75">72</text><text class="s2" x="510" y="89">107280</text><text class="s3" x="510" y="102">25.00%</text>
<text class="s1" x="750" y="75">504</text><text class="s2" x="750" y="89">111312</text><text class="s3" x="750" y="102">12.50%</text>
<text class="s1" x="990" y="75">612</text><text class="s2" x="990" y="89">116208</text><text class="s3" x="990" y="102">0.00%</text>
</g>

<g id="row23" transform="translate(0,3583)">
<use href="#grid"/>
<text class="tp" x="31" y="-33">♩=125</text><text class="tp" x="91" y="-33">♩=126</text><text class="tp" x="211" y="-33">♩=125</text><text class="tp" x="271" y="-33">♩=124</text><text class="tp" x="331" y="-33">♩=125</text><text class="tp" x="451" y="-33">♩=126</text><text class="tp" x="511" y="-33">♩=125</text><text class="tp" x="571" y="-33">♩=124</text><text class="tp" x="691" y="-33">♩=125</text><text class="tp" x="751" y="-33">♩=126</text><text class="tp" x="811" y="-33">♩=125</text><text class="tp" x="871" y="-33">♩=124</text><text class="tp" x="931" y="-33">♩=125</text>
<text class="mn" x="32" y="-7">89</text><text class="mn" x="272" y="-7">90</text><text class="mn" x="512" y="-7">91</text><text class="mn" x="752" y="-7">92</text>
<use href="#n" class="g" x="31" y="0"/><use href="#H1" x="31"/><use href="#H3" x="271"/><use href="#H1" x="511"/><use href="#H2s" x="751"/>
<rect class="og" x="751" y="0" width="195" height="60"/><rect class="ob" x="31" y="0" width="30" height="60"/><rect class="or" x="61" y="0" width="7" height="60"/>
<text class="s1" x="270" y="75">504</text><text class="s2" x="270" y="89">118512</text><text class="s3" x="270" y="102">0.00%</text>
<text class="s1" x="510" y="75">612</text><text class="s2" x="510" y="89">120960</text><text class="s3" x="510" y="102">0.00%</text>
<text class="s1" x="750" y="75">468</text><text class="s2" x="750" y="89">122832</text><text class="s3" x="750" y="102">0.00%</text>
<text class="s1" x="990" y="75">576</text><text class="s2" x="990" y="89">125136</text><text class="s3" x="990" y="102">25.00%</text>
</g>

<g id="row24" transform="translate(0,3736)">
<use href="#grid"/>
<text class="tp" x="31" y="-33">♩=125</text><text class="tp" x="91" y="-33">♩=124</text><text class="tp" x="211" y="-33">♩=126</text><text class="tp" x="271" y="-33">♩=125</text><text class="tp" x="391" y="-33">♩=125</text><text class="tp" x="451" y="-33">♩=124</text><text class="tp" x="511" y="-33">♩=126</text><text class="tp" x="571" y="-33">♩=125</text><text class="tp" x="691" y="-33">♩=125</text><text class="tp" x="751" y="-33">♩=124</text><text class="tp" x="811" y="-33">♩=125</text><text class="tp" x="931" y="-33">♩=126</text>
<text class="mn" x="32" y="-7">93</text><text class="mn" x="272" y="-7">94</text><text class="mn" x="512" y="-7">95</text><text class="mn" x="752" y="-7">96</text>
<use href="#H1" x="31"/><use href="#H3" x="271"/><use href="#H1" x="511"/><use href="#H2" x="751"/>
<rect class="or" x="279" y="0" width="7" height="60"/><rect class="ob" x="286" y="0" width="218" height="60"/><rect class="or" x="504" y="0" width="7" height="60"/>
<text class="s1" x="270" y="75">468</text><text class="s2" x="270" y="89">127008</text><text class="s3" x="270" y="102">25.00%</text>
<text class="s1" x="510" y="75">612</text><text class="s2" x="510" y="89">130896</text><text class="s3" x="510" y="102">0.00%</text>
<text class="s1" x="750" y="75">468</text><text class="s2" x="750" y="89">134640</text><text class="s3" x="750" y="102">0.00%</text>
<text class="s1" x="990" y="75">576</text><text class="s2" x="990" y="89">136944</text><text class="s3" x="990" y="102">0.00%</text>
</g>

<g id="row25" transform="translate(0,3889)">
<use href="#grid"/>
<text class="tp" x="31" y="-33">♩=125</text><text class="tp" x="91" y="-33">♩=124</text><text class="tp" x="151" y="-33">♩=126</text><text class="tp" x="211" y="-33">♩=125</text><text class="tp" x="271" y="-33">♩=123</text><text class="tp" x="391" y="-33">♩=122</text><text class="tp" x="451" y="-33">♩=124</text><text class="tp" x="511" y="-33">♩=126</text><text class="tp" x="571" y="-33">♩=125</text><text class="tp" x="691" y="-33">♩=125</text><text class="tp" x="751" y="-33">♩=126</text><text class="tp" x="811" y="-33">♩=124</text><text class="tp" x="931" y="-33">♩=125</text>
<text class="mn" x="32" y="-7">97</text><text class="mn" x="272" y="-7">98</text><text class="mn" x="512" y="-7">99</text><text class="mn" x="752" y="-7">100</text>
<use href="#H1" x="31"/><use href="#n" class="y" x="271" y="30"/><use href="#K1" x="511"/><use href="#K3" x="751"/>
<text class="s1" x="270" y="75">468</text><text class="s2" x="270" y="89">138816</text><text class="s3" x="270" y="102">0.00%</text>
<text class="s1" x="510" y="75">36</text><text class="s2" x="510" y="89">138960</text><text class="s3" x="510" y="102">0.00%</text>
<text class="s1" x="750" y="75">216</text><text class="s2" x="750" y="89">139824</text><text class="s3" x="750" y="102">0.00%</text>
<text class="s1" x="990" y="75">180</text><text class="s2" x="990" y="89">140544</text><text class="s3" x="990" y="102">0.00%</text>
</g>

<g id="row26" transform="translate(0,4042)">
<use href="#grid"/>
<text class="tp" x="31" y="-33">♩=126</text><text class="tp" x="91" y="-33">♩=125</text><text class="tp" x="211" y="-33">♩=124</text><text class="tp" x="271" y="-33">♩=126</text><text class="tp" x="331" y="-33">♩=125</text><text class="tp" x="451" y="-33">♩=123</text><text class="tp" x="511" y="-33">♩=126</text><text class="tp" x="571" y="-33">♩=125</text><text class="tp" x="691" y="-33">♩=124</text><text class="tp" x="751" y="-33">♩=126</text><text class="tp" x="811" y="-33">♩=125</text><text class="tp" x="931" y="-33">♩=124</text>
<text class="mn" x="32" y="-7">101</text><text class="mn" x="272" y="-7">102</text><text class="mn" x="512" y="-7">103</text><text class="mn" x="752" y="-7">104</text>
<use href="#K1" x="31"/><use href="#K2" x="271"/><use href="#K1" x="511"/><use href="#K3" x="751"/>
<text class="s1" x="270" y="75">216</text><text class="s2" x="270" y="89">141408</text><text class="s3" x="270" y="102">0.00%</text>
<text class="s1" x="510" y="75">252</text><text class="s2" x="510" y="89">142416</text><text class="s3" x="510" y="102">0.00%</text>
<text class="s1" x="750" y="75">216</text><text class="s2" x="750" y="89">143280</text><text class="s3" x="750" y="102">0.00%</text>
<text class="s1" x="990" y="75">180</text><text class="s2" x="990" y="89">144000</text><text class="s3" x="990" y="102">0.00%</text>
</g>

<g id="row27" transform="translate(0,4195)">
<use href="#grid"/>
<text class="tp" x="31" y="-33">♩=126</text><text class="tp" x="91" y="-33">♩=123</text><text class="tp" x="211" y="-33">♩=127</text><text class="tp" x="271" y="-33">♩=122</text><text class="tp" x="391" y="-33">♩=126</text><text class="tp" x="511" y="-33">♩=126</text><text class="tp" x="571" y="-33">♩=127</text><text class="tp" x="631" y="-33">♩=124</text><text class="tp" x="691" y="-33">♩=124</text><text class="tp" x="751" y="-33">♩=125</text><text class="tp" x="811" y="-33">♩=125</text><text class="tp" x="871" y="-33">♩=124</text><text class="tp" x="931" y="-33">♩=126</text>
<text class="mn" x="32" y="-7">105</text><text class="mn" x="272" y="-7">106</text><text class="mn" x="512" y="-7">107</text><text class="mn" x="752" y="-7">108</text>
<use href="#K1" x="31"/><use href="#RY8" x="271"/><use href="#n" class="g" x="511" y="0"/><use href="#n" class="o" x="511" y="60"/><use href="#C" x="511"/><use href="#H2" x="751"/>
<text class="s1" x="270" y="75">216</text><text class="s2" x="270" y="89">144864</text><text class="s3" x="270" y="102">0.00%</text>
<text class="s1" x="510" y="75">72</text><text class="s2" x="510" y="89">145152</text><text class="s3" x="510" y="102">0.00%</text>
<text class="s1" x="750" y="75">468</text><text class="s2" x="750" y="89">147024</text><text class="s3" x="750" y="102">0.00%</text>
<text class="s1" x="990" y="75">576</text><text class="s2" x="990" y="89">149328</text><text class="s3" x="990" y="102">0.00%</text>
</g>

<g id="row28" transform="translate(0,4348)">
<use href="#grid"/>
<text class="tp" x="31" y="-33">♩=125</text><text class="tp" x="91" y="-33">♩=124</text><text class="tp" x="151" y="-33">♩=126</text><text class="tp" x="211" y="-33">♩=125</text><text class="tp" x="271" y="-33">♩=125</text><text class="tp" x="331" y="-33">♩=125</text><text class="tp" x="391" y="-33">♩=124</text><text class="tp" x="451" y="-33">♩=125</text><text class="tp" x="511" y="-33">♩=126</text><text class="tp" x="571" y="-33">♩=125</text><text class="tp" x="631" y="-33">♩=124</text><text class="tp" x="691" y="-33">♩=125</text><text class="tp" x="751" y="-33">♩=125</text><text class="tp" x="811" y="-33">♩=125</text><text class="tp" x="871" y="-33">♩=126</text><text class="tp" x="931" y="-33">♩=125</text>
<text class="mn" x="32" y="-7">109</text><text class="mn" x="272" y="-7">110</text><text class="mn" x="512" y="-7">111</text><text class="mn" x="752" y="-7">112</text>
<use href="#H1" x="31"/><use href="#H3" x="271"/><use href="#H1" x="511"/><use href="#H2" x="751"/>
<text class="s1" x="270" y="75">468</text><text class="s2" x="270" y="89">151200</text><text class="s3" x="270" y="102">0.00%</text>
<text class="s1" x="510" y="75">612</text><text class="s2" x="510" y="89">153648</text><text class="s3" x="510" y="102">0.00%</text>
<text class="s1" x="750" y="75">468</text><text class="s2" x="750" y="89">155520</text><text class="s3" x="750" y="102">0.00%</text>
<text class="s1" x="990" y="75">576</text><text class="s2" x="990" y="89">157824</text><text class="s3" x="990" y="102">0.00%</text>
</g>

<g id="row29" transform="translate(0,4501)">
<use href="#grid2"/>
<text class="tp" x="31" y="-33">♩=125</text><text class="tp" x="91" y="-33">♩=124</text><text class="tp" x="211" y="-33">♩=126</text><text class="tp" x="271" y="-33">♩=125</text><text class="tp" x="391" y="-33">♩=124</text>
<text class="mn" x="32" y="-7">113</text><text class="mn" x="272" y="-7">114</text>
<use href="#H1" x="31"/><use href="#n" class="y" x="271" y="30"/>
<text class="s1" x="270" y="75">468</text><text class="s2" x="270" y="89">159696</text><text class="s3" x="270" y="102">0.00%</text>
<text class="s1" x="510" y="75">36</text><text class="s2" x="510" y="89">159840</text><text class="s3" x="510" y="102">0.00%</text>
</g>
</g>
</svg>
